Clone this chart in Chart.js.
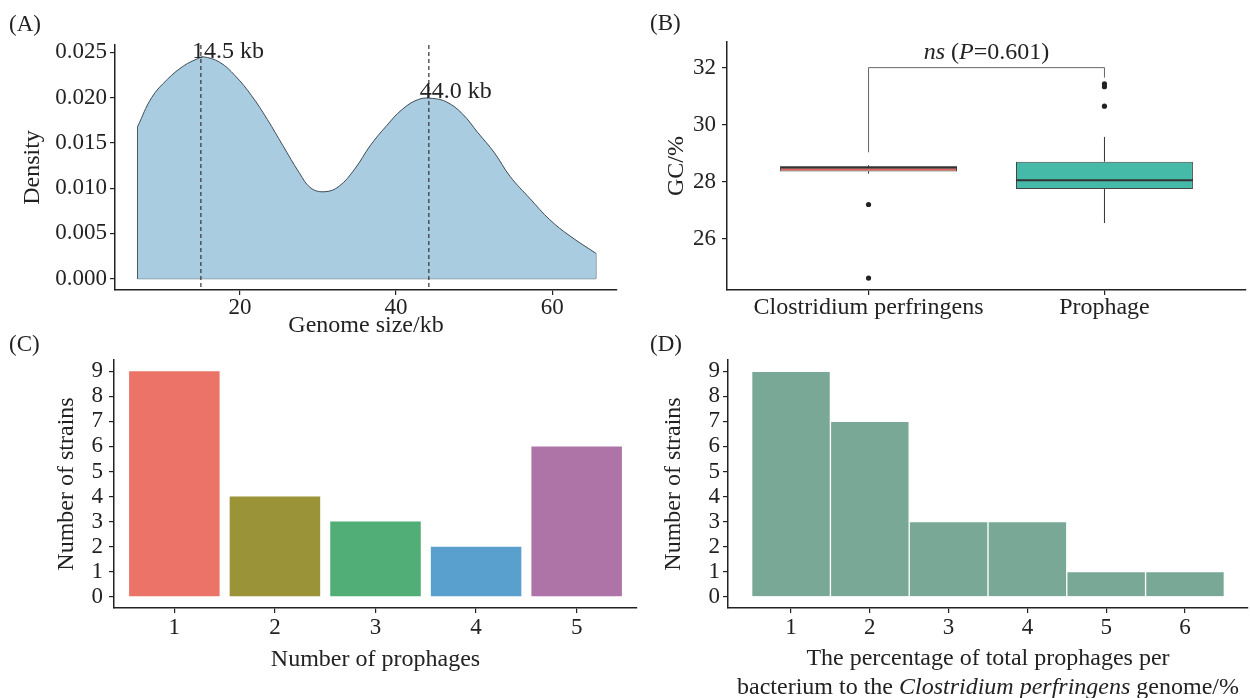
<!DOCTYPE html>
<html>
<head>
<meta charset="utf-8">
<title>Prophage figure</title>
<script src="https://cdn.jsdelivr.net/npm/chart.js@4.4.0/dist/chart.umd.min.js"></script>
<style>
  body { margin: 0; background: #fff; font-family: "Liberation Serif", "Times New Roman", serif; color: #222; }
  #wrap { position: relative; width: 1250px; height: 698px; overflow: hidden; }
  canvas { position: absolute; }
  .tag { position: absolute; font-size: 23px; line-height: 23px; }
  #dTitle { position: absolute; left: 728px; top: 643px; width: 520px; text-align: center; font-size: 24px; line-height: 29px; }
</style>
</head>
<body>
<div id="wrap">
  <canvas id="chartA" width="625" height="345" style="left:0;top:0"></canvas>
  <canvas id="chartB" width="625" height="345" style="left:625px;top:0"></canvas>
  <canvas id="chartC" width="640" height="368" style="left:0;top:330px"></canvas>
  <canvas id="chartD" width="625" height="368" style="left:625px;top:330px"></canvas>
  <div class="tag" style="left:9px;top:12px">(A)</div>
  <div class="tag" style="left:650px;top:11px">(B)</div>
  <div class="tag" style="left:9px;top:332px">(C)</div>
  <div class="tag" style="left:650px;top:332px">(D)</div>
  <div id="dTitle">The percentage of total prophages per<br>bacterium to the <i>Clostridium perfringens</i> genome/%</div>
</div>
<script>
// (A) density of prophage genome size
const sizeKb = [6.9, 8.7, 10.7, 12.8, 14.6, 15.3, 17.4, 19.4, 21.5, 23.5, 25.5, 27.6, 29.1, 30.9, 32.7,
                34.7, 36.7, 38.8, 40.8, 42.9, 44.7, 46.5, 48.5, 50.5, 52.6, 54.6, 57.2, 59.7, 62.3, 65.6];
const density = [0.0168, 0.0200, 0.0220, 0.0235, 0.0243, 0.0245, 0.0239, 0.0224, 0.0202, 0.0176, 0.0147, 0.0117, 0.0100, 0.0096, 0.0102,
                 0.0121, 0.0147, 0.0169, 0.0187, 0.0198, 0.0199, 0.0195, 0.0182, 0.0161, 0.0139, 0.0113, 0.0088, 0.0065, 0.0047, 0.0028];
const sizeTicks = [20, 40, 60];
const densityTicks = [0, 0.005, 0.010, 0.015, 0.020, 0.025];
const peakKb = [15.0, 44.2];
const peakLabelY = [0.0251, 0.0206];
const peakLabels = ['14.5 kb', '44.0 kb'];

// (B) GC content boxplots
const gcGroups = ['Clostridium perfringens', 'Prophage'];
const gcLower = [28.28, 26.55];
const gcQ1 = [28.36, 27.74];
const gcMedian = [28.50, 28.05];
const gcQ3 = [28.50, 28.70];
const gcUpper = [28.58, 29.57];
const gcOutGroup = [1, 1, 2, 2, 2];
const gcOutValue = [27.2, 24.62, 31.43, 31.33, 30.65];
const gcTicks = [26, 28, 30, 32];
const sigY = 32.0;
const sigLegEnd = [29.03, 31.65];
const sigLabelY = 32.52;

// (C) strains by number of prophages
const prophageNum = [1, 2, 3, 4, 5];
const strainsByNum = [9, 4, 3, 2, 6];

// (D) strains by prophage share of genome
const percentBin = [1, 2, 3, 4, 5, 6];
const strainsByPercent = [9, 7, 3, 3, 1, 1];

const countTicks = [0, 1, 2, 3, 4, 5, 6, 7, 8, 9];

const FONT = '"Liberation Serif", "Times New Roman", serif';
const INK = '#222';
const barColorsC = ['#EC7367', '#9A9337', '#50AE76', '#5AA0CF', '#AE74A7'];
const boxColors = ['#E0675E', '#45BAA8'];

Chart.defaults.font.family = FONT;
Chart.defaults.color = INK;
Chart.defaults.animation = false;

// ggplot-like axis: axis line, outward ticks, fixed box size
function makeAxis(o) {
    return {
        type: 'linear',
        min: o.min,
        max: o.max,
        offset: false,
        afterBuildTicks: s => { s.ticks = o.ticks.map(v => ({ value: v })); },
        afterFit: s => { if (s.isHorizontal()) s.height = o.size; else s.width = o.size; },
        border: { display: true, color: INK, width: 1.5 },
        grid: { display: true, offset: false, drawOnChartArea: false, drawTicks: true, tickLength: 5, color: INK, lineWidth: 1.2 },
        ticks: {
            font: { size: o.tickSize || 23, lineHeight: 1 },
            color: INK,
            padding: o.labelPad,
            maxRotation: 0,
            autoSkip: false,
            callback: o.fmt || (v => v)
        },
        title: {
            display: !!o.title,
            text: o.title,
            font: { size: 24 },
            color: INK,
            padding: o.titlePad || 0
        }
    };
}

// (A) dashed peak lines with labels
const peakPlugin = {
    id: 'peaks',
    afterDatasetsDraw(chart) {
        const { ctx, chartArea, scales } = chart;
        ctx.save();
        ctx.strokeStyle = '#333';
        ctx.lineWidth = 1.2;
        ctx.setLineDash([4, 3]);
        peakKb.forEach(kb => {
            const px = scales.x.getPixelForValue(kb);
            ctx.beginPath();
            ctx.moveTo(px, chartArea.top);
            ctx.lineTo(px, chartArea.bottom);
            ctx.stroke();
        });
        ctx.setLineDash([]);
        ctx.font = '24px ' + FONT;
        ctx.fillStyle = INK;
        ctx.textAlign = 'left';
        ctx.textBaseline = 'middle';
        peakKb.forEach((kb, i) => {
            ctx.fillText(peakLabels[i], scales.x.getPixelForValue(kb) - 9, scales.y.getPixelForValue(peakLabelY[i]));
        });
        ctx.restore();
    }
};

new Chart(document.getElementById('chartA'), {
    type: 'line',
    data: {
        datasets: [{
            data: sizeKb.map((x, i) => ({ x: x, y: density[i] })),
            borderColor: '#3E4C58',
            borderWidth: 1,
            backgroundColor: '#AACCE0',
            fill: 'origin',
            tension: 0.4,
            pointRadius: 0
        }, {
            // closing edges of the density polygon
            data: [
                { x: sizeKb[0], y: density[0] },
                { x: sizeKb[0], y: 0 },
                { x: sizeKb[sizeKb.length - 1], y: 0 },
                { x: sizeKb[sizeKb.length - 1], y: density[density.length - 1] }
            ],
            borderColor: '#3E4C58',
            borderWidth: 1,
            fill: false,
            tension: 0,
            pointRadius: 0
        }]
    },
    options: {
        responsive: false,
        layout: { padding: { left: 0, top: 45, right: 8, bottom: 0 } },
        plugins: { legend: { display: false }, tooltip: { enabled: false } },
        scales: {
            x: makeAxis({ min: 4, max: 68.3, ticks: sizeTicks, size: 55, labelPad: 1, title: 'Genome size/kb', titlePad: { top: 0, bottom: 4.6 } }),
            y: makeAxis({ min: -0.00125, max: 0.0258, ticks: densityTicks, size: 115, labelPad: 3, title: 'Density', titlePad: { top: 18.6, bottom: 0 }, fmt: v => v.toFixed(3) })
        }
    },
    plugins: [peakPlugin]
});

// (B) whiskers, medians and significance bracket
const boxPlugin = {
    id: 'boxes',
    afterDatasetsDraw(chart) {
        const { ctx, scales: { x, y } } = chart;
        const bars = chart.getDatasetMeta(0).data;
        const seg = (x1, y1, x2, y2) => { ctx.beginPath(); ctx.moveTo(x1, y1); ctx.lineTo(x2, y2); ctx.stroke(); };
        ctx.save();
        gcGroups.forEach((g, i) => {
            const cx = x.getPixelForValue(i + 1);
            const half = bars[i].width / 2;
            ctx.strokeStyle = '#333';
            ctx.lineWidth = 1;
            seg(cx, y.getPixelForValue(gcQ3[i]), cx, y.getPixelForValue(gcUpper[i]));
            seg(cx, y.getPixelForValue(gcQ1[i]), cx, y.getPixelForValue(gcLower[i]));
            ctx.lineWidth = 2.2;
            seg(cx - half, y.getPixelForValue(gcMedian[i]), cx + half, y.getPixelForValue(gcMedian[i]));
        });
        // bracket
        const x1 = x.getPixelForValue(1), x2 = x.getPixelForValue(2), yb = y.getPixelForValue(sigY);
        ctx.strokeStyle = '#666';
        ctx.lineWidth = 1;
        seg(x1, y.getPixelForValue(sigLegEnd[0]), x1, yb);
        seg(x1, yb, x2, yb);
        seg(x2, yb, x2, y.getPixelForValue(sigLegEnd[1]));
        // "ns (P=0.601)" with italics
        const parts = [['ns', true], [' (', false], ['P', true], ['=0.601)', false]];
        const fontOf = it => (it ? 'italic ' : '') + '24px ' + FONT;
        let total = 0;
        parts.forEach(p => { ctx.font = fontOf(p[1]); total += ctx.measureText(p[0]).width; });
        let tx = (x1 + x2) / 2 - total / 2;
        const ty = y.getPixelForValue(sigLabelY);
        ctx.fillStyle = INK;
        ctx.textAlign = 'left';
        ctx.textBaseline = 'middle';
        parts.forEach(p => { ctx.font = fontOf(p[1]); ctx.fillText(p[0], tx, ty); tx += ctx.measureText(p[0]).width; });
        ctx.restore();
    }
};

new Chart(document.getElementById('chartB'), {
    type: 'bar',
    data: {
        datasets: [{
            data: gcGroups.map((g, i) => ({ x: i + 1, y: [gcQ1[i], gcQ3[i]] })),
            backgroundColor: boxColors,
            borderColor: '#444',
            borderWidth: 1,
            borderSkipped: false,
            barPercentage: 0.75,
            categoryPercentage: 1,
            order: 2
        }, {
            type: 'scatter',
            data: gcOutGroup.map((g, i) => ({ x: g, y: gcOutValue[i] })),
            backgroundColor: '#222',
            borderWidth: 0,
            pointRadius: 2.6,
            order: 1
        }]
    },
    options: {
        responsive: false,
        layout: { padding: { left: 0, top: 42, right: 3, bottom: 0 } },
        plugins: { legend: { display: false }, tooltip: { enabled: false } },
        scales: {
            x: makeAxis({ min: 0.4, max: 2.6, ticks: [1, 2], size: 55, labelPad: 1, tickSize: 24, fmt: v => gcGroups[v - 1] }),
            y: makeAxis({ min: 24.2, max: 32.9, ticks: gcTicks, size: 102, labelPad: 6, title: 'GC/%', titlePad: { top: 37.6, bottom: 0 } })
        }
    },
    plugins: [boxPlugin]
});

// (C) number of prophages
new Chart(document.getElementById('chartC'), {
    type: 'bar',
    data: {
        datasets: [{
            data: prophageNum.map((n, i) => ({ x: n, y: strainsByNum[i] })),
            backgroundColor: barColorsC,
            borderWidth: 0,
            barPercentage: 0.9,
            categoryPercentage: 1
        }]
    },
    options: {
        responsive: false,
        layout: { padding: { left: 0, top: 30, right: 3, bottom: 0 } },
        plugins: { legend: { display: false }, tooltip: { enabled: false } },
        scales: {
            x: makeAxis({ min: 0.4, max: 5.6, ticks: prophageNum, size: 90, labelPad: 3, title: 'Number of prophages', titlePad: { top: 0, bottom: 23.6 } }),
            y: makeAxis({ min: -0.45, max: 9.45, ticks: countTicks, size: 114, labelPad: 6, title: 'Number of strains', titlePad: { top: 52.6, bottom: 0 } })
        }
    }
});

// (D) prophage share of genome
new Chart(document.getElementById('chartD'), {
    type: 'bar',
    data: {
        datasets: [{
            data: percentBin.map((b, i) => ({ x: b, y: strainsByPercent[i] })),
            backgroundColor: '#79A996',
            borderColor: '#ffffff',
            borderWidth: 1,
            barPercentage: 1,
            categoryPercentage: 1
        }]
    },
    options: {
        responsive: false,
        layout: { padding: { left: 0, top: 30, right: 2, bottom: 0 } },
        plugins: { legend: { display: false }, tooltip: { enabled: false } },
        scales: {
            x: makeAxis({ min: 0.2, max: 6.8, ticks: percentBin, size: 90, labelPad: 3 }),
            y: makeAxis({ min: -0.45, max: 9.45, ticks: countTicks, size: 103, labelPad: 3, title: 'Number of strains', titlePad: { top: 34.1, bottom: 0 } })
        }
    }
});
</script>
</body>
</html>
